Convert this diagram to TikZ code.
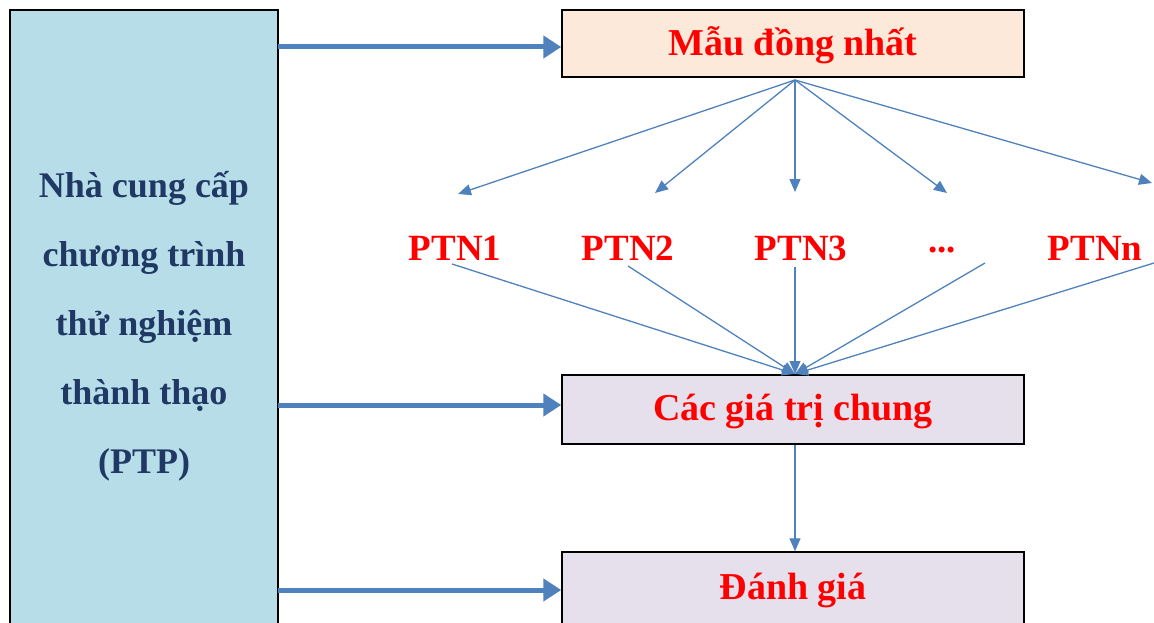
\documentclass[tikz,border=0pt]{standalone}
\usepackage{fontspec}
\setmainfont{Liberation Serif}
\usetikzlibrary{arrows.meta}
\definecolor{ptpfill}{HTML}{B7DDE8}
\definecolor{navy}{HTML}{1F3864}
\definecolor{peach}{HTML}{FDE9D9}
\definecolor{lilac}{HTML}{E5E0EC}
\definecolor{arrowblue}{HTML}{4F81BD}
\definecolor{red}{HTML}{FF0000}
\tikzset{
  box/.style={draw=black, line width=1.5pt, inner sep=0pt, minimum width=462pt},
  redtxt/.style={text=red, font=\fontsize{38}{44}\selectfont\bfseries},
  lab/.style={text=red, font=\fontsize{37}{44}\selectfont\bfseries, inner sep=0pt},
  thick arrow/.style={draw=arrowblue, line width=5pt, -{Triangle[length=18pt,width=22pt]}},
  thin arrow/.style={draw=arrowblue, line width=1.3pt, -{Triangle[length=13pt,width=11pt]}},
}
\begin{document}
\begin{tikzpicture}[x=1pt,y=-1pt]
\useasboundingbox (0,0) rectangle (1154,623);
\begin{scope}
\clip (0,0) rectangle (1154,623);
% left box
\draw[fill=ptpfill, line width=1.5pt] (10,10) rectangle (278,640);
\node[text=navy, font=\fontsize{36}{69}\selectfont\bfseries, align=center] (ptp) at (144,326)
  {Nhà cung cấp\\chương trình\\thử nghiệm\\thành thạo\\(PTP)};
\coordinate (ptpE1) at (278,47);
\coordinate (ptpE2) at (278,405);
\coordinate (ptpE3) at (278,590);
% right boxes
\node[box, fill=peach, minimum height=67pt] (mau) at (793,43.5) {};
\node[redtxt] (maut) at (793,45.5) {Mẫu đồng nhất};
\node[box, fill=lilac, minimum height=69pt] (cac) at (793,409.5) {};
\node[redtxt] (cact) at (793,411.5) {Các giá trị chung};
\node[box, fill=lilac, minimum height=90pt] (dg) at (793,597) {};
\node[redtxt] (dgt) at (793,590) {Đánh giá};
\end{scope}
% thick arrows
\draw[thick arrow] (ptpE1) -- (mau.west |- ptpE1);
\draw[thick arrow] (ptpE2) -- (cac.west |- ptpE2);
\draw[thick arrow] (ptpE3) -- (dg.west |- ptpE3);
% PTN labels
\node[lab] (p1) at (455,248) {PTN1};
\node[lab] (p2) at (628,248) {PTN2};
\node[lab] (p3) at (801,248) {PTN3};
\node[lab] (p4) at (942,250) {...};
\node[lab] (p5) at (1095,248) {PTNn};
% fan out
\coordinate (fo) at (795,80);
\coordinate (t1) at (458,194);
\coordinate (t2) at (655,193);
\coordinate (t3) at (795,192);
\coordinate (t4) at (947,193);
\coordinate (t5) at (1152,183);
\foreach \t in {t1,t2,t3,t4,t5} \draw[thin arrow] (fo) -- (\t);
% fan in
\coordinate (fi) at (795,374);
\coordinate (s1) at (452,264);
\coordinate (s2) at (628,266);
\coordinate (s3) at (795,267);
\coordinate (s4) at (985,263);
\coordinate (s5) at (1154,263);
\foreach \s in {s1,s2,s3,s4,s5} \draw[thin arrow] (\s) -- (fi);
% cac -> danh gia
\draw[thin arrow] (cac.south -| fo) -- (dg.north -| fo);
\end{tikzpicture}
\end{document}
